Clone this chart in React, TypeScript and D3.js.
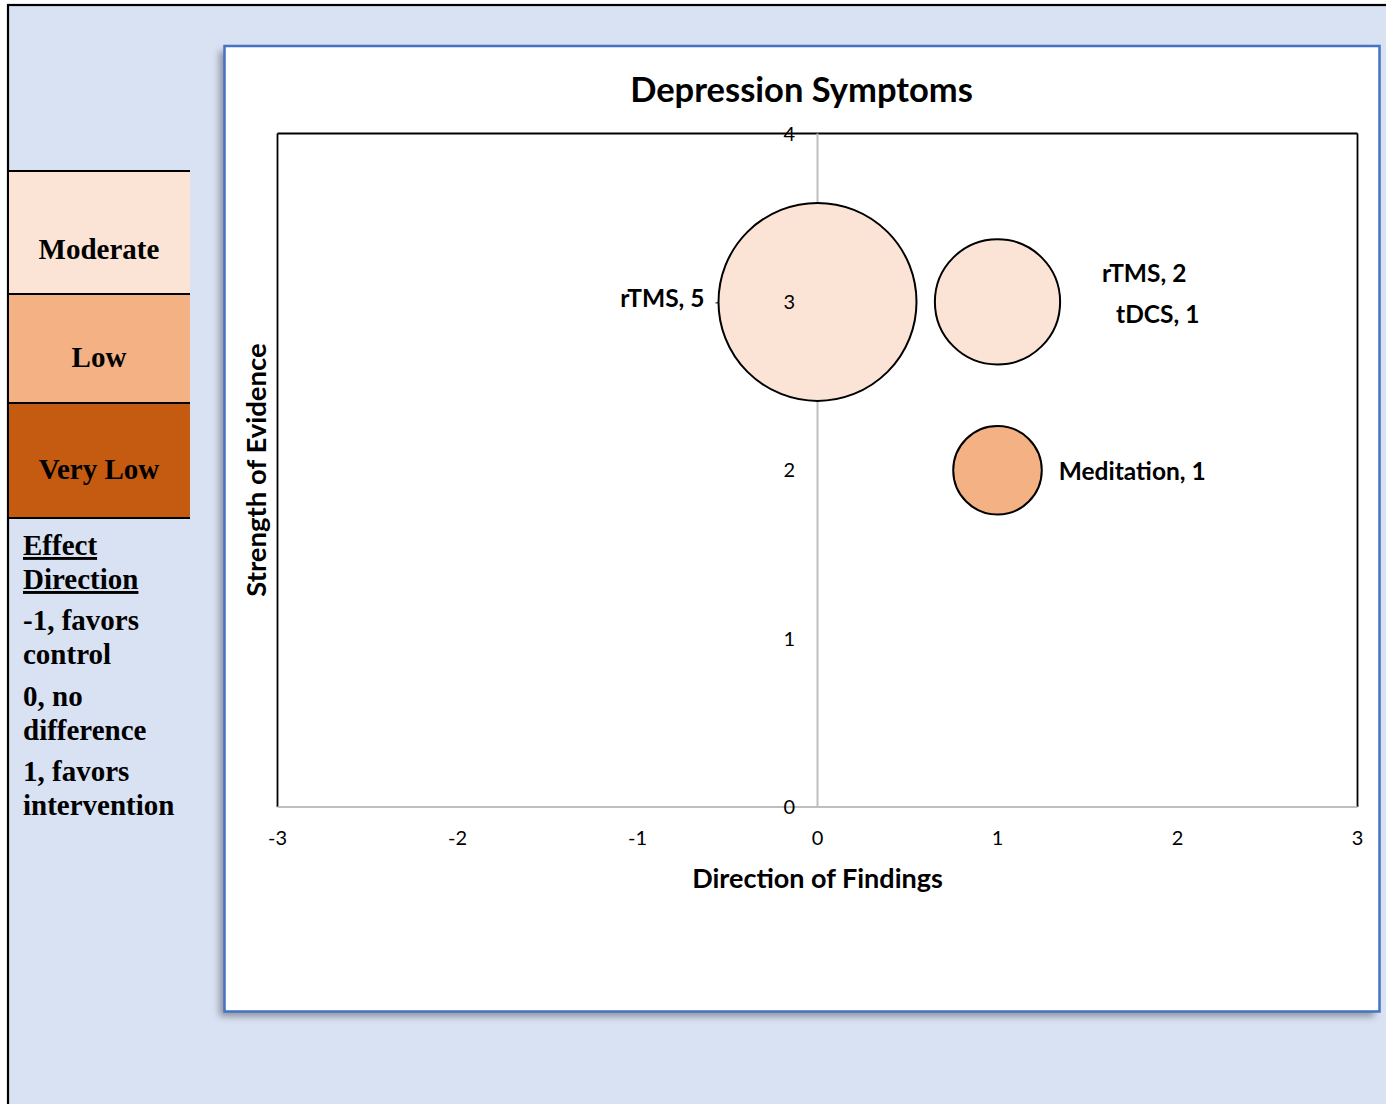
import React from "react";
import * as d3 from "d3";

// ---- data ----
const interventions = ["rTMS, 5", "rTMS, 2|tDCS, 1", "Meditation, 1"];
const direction = [0, 1, 1];
const strength = [3, 3, 2];
const studyCount = [5, 2, 1];
const grade = ["Moderate", "Moderate", "Low"];

const gradeLevels = ["Moderate", "Low", "Very Low"];
const gradeColors = ["#FBE4D5", "#F4B183", "#C55A11"];

const xTicks = [-3, -2, -1, 0, 1, 2, 3];
const yTicks = [0, 1, 2, 3, 4];

const effectTitle = ["Effect", "Direction"];
const effectLines = [
  ["-1, favors", "control"],
  ["0, no", "difference"],
  ["1, favors", "intervention"],
];

const FONT = "Lato, 'Open Sans', sans-serif";
const SERIF = "'Liberation Serif', 'Times New Roman', serif";

export default function App() {
  const W = 1386, H = 1104;
  const x = d3.scaleLinear().domain([-3, 3]).range([277.5, 1357.5]);
  const y = d3.scaleLinear().domain([0, 4]).range([807, 133.5]);
  const r = d3.scaleSqrt().domain([0, 5]).range([0, 99]);
  const gradeColor = d3.scaleOrdinal<string, string>().domain(gradeLevels).range(gradeColors);

  const bandEdges = [171, 294, 403, 518];
  const LBL = 24.5;

  return (
    <div style={{ position: "absolute", left: 0, top: 0, width: W, height: H }}>
      <svg width={W} height={H} style={{ display: "block" }}>
        <defs>
          <filter id="shadow" x="-5%" y="-5%" width="110%" height="110%">
            <feDropShadow dx={-5} dy={5} stdDeviation={3.5} floodColor="#000" floodOpacity={0.35} />
          </filter>
        </defs>
        <rect x={0} y={0} width={W} height={H} fill="#fff" />
        <rect x={8} y={5} width={W} height={H} fill="#D9E2F3" stroke="#000" strokeWidth={2.2} />

        {/* grade legend bands */}
        {gradeLevels.map((g, i) => (
          <g key={g}>
            <rect x={9} y={bandEdges[i]} width={181} height={bandEdges[i + 1] - bandEdges[i]} fill={gradeColor(g)} />
            <text
              x={99}
              y={[259, 367, 479][i]}
              textAnchor="middle"
              fontFamily={SERIF}
              fontWeight="bold"
              fontSize={29}
              fill="#000"
            >
              {g}
            </text>
          </g>
        ))}
        {bandEdges.map((e) => (
          <line key={e} x1={8} x2={190} y1={e} y2={e} stroke="#000" strokeWidth={2} />
        ))}

        {/* effect direction legend */}
        {effectTitle.map((t, i) => (
          <text
            key={t}
            x={23}
            y={555 + i * 34}
            fontFamily={SERIF}
            fontWeight="bold"
            fontSize={29}
            textDecoration="underline"
            fill="#000"
          >
            {t}
          </text>
        ))}
        {effectLines.map((pair, i) =>
          pair.map((t, j) => (
            <text
              key={t}
              x={23}
              y={630 + i * 75.5 + j * 34}
              fontFamily={SERIF}
              fontWeight="bold"
              fontSize={29}
              fill="#000"
            >
              {t}
            </text>
          ))
        )}

        {/* chart box */}
        <rect x={224.5} y={46} width={1155} height={965.5} fill="#fff" filter="url(#shadow)" />
        <rect x={224.5} y={46} width={1155} height={965.5} fill="none" stroke="#4472C4" strokeWidth={2.5} />

        <text x={801.5} y={102} textAnchor="middle" fontFamily={FONT} fontWeight="bold" fontSize={34.5} fill="#000">
          Depression Symptoms
        </text>

        {/* plot area border */}
        <line x1={x(-3)} x2={x(3)} y1={y(4)} y2={y(4)} stroke="#000" strokeWidth={1.8} />
        <line x1={x(-3)} x2={x(-3)} y1={y(4)} y2={y(0)} stroke="#000" strokeWidth={1.8} />
        <line x1={x(3)} x2={x(3)} y1={y(4)} y2={y(0)} stroke="#000" strokeWidth={1.8} />

        {/* axes */}
        <line x1={x(-3)} x2={x(3)} y1={y(0)} y2={y(0)} stroke="#BFBFBF" strokeWidth={2} />
        <line x1={x(0)} x2={x(0)} y1={y(4)} y2={y(0)} stroke="#BFBFBF" strokeWidth={2} />

        {xTicks.map((t) => (
          <text key={t} x={x(t)} y={845} textAnchor="middle" fontFamily={FONT} fontSize={20} fill="#000">
            {t}
          </text>
        ))}

        {/* bubbles */}
        {interventions.map((name, i) => (
          <circle
            key={name}
            cx={x(direction[i])}
            cy={y(strength[i])}
            r={r(studyCount[i])}
            fill={gradeColor(grade[i])}
            stroke="#000"
            strokeWidth={2}
          />
        ))}

        {yTicks.map((t) => (
          <text key={t} x={795} y={y(t) + 7} textAnchor="end" fontFamily={FONT} fontSize={20} fill="#000">
            {t}
          </text>
        ))}

        {/* data labels */}
        {interventions.map((name, i) => {
          const cx = x(direction[i]);
          const cy = y(strength[i]);
          const rad = r(studyCount[i]);
          const lines = name.split("|");
          if (direction[i] === 0) {
            return (
              <g key={name}>
                <text x={cx - rad - 14} y={cy + 5} textAnchor="end" fontFamily={FONT} fontWeight="bold" fontSize={LBL} fill="#000">
                  {lines[0]}
                </text>
                <line x1={cx - rad - 3} x2={cx - rad} y1={cy + 1} y2={cy + 1} stroke="#000" strokeWidth={1} />
              </g>
            );
          }
          if (lines.length === 2) {
            return (
              <g key={name}>
                <text x={cx + rad + 42} y={cy - 20} fontFamily={FONT} fontWeight="bold" fontSize={LBL} fill="#000">
                  {lines[0]}
                </text>
                <text x={cx + rad + 56} y={cy + 21} fontFamily={FONT} fontWeight="bold" fontSize={LBL} fill="#000">
                  {lines[1]}
                </text>
              </g>
            );
          }
          return (
            <text key={name} x={cx + rad + 17} y={cy + 10} fontFamily={FONT} fontWeight="bold" fontSize={LBL} fill="#000">
              {lines[0]}
            </text>
          );
        })}

        {/* axis titles */}
        <text x={x(0)} y={888} textAnchor="middle" fontFamily={FONT} fontWeight="bold" fontSize={27} fill="#000">
          Direction of Findings
        </text>
        <text
          transform={`translate(266, 470) rotate(-90)`}
          textAnchor="middle"
          fontFamily={FONT}
          fontWeight="bold"
          fontSize={27.5}
          fill="#000"
        >
          Strength of Evidence
        </text>
      </svg>
    </div>
  );
}
